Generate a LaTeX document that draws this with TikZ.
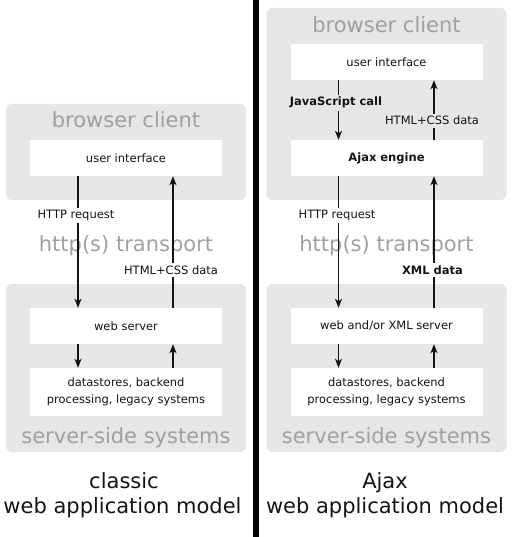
\documentclass[tikz,border=0pt]{standalone}
\usepackage{fontspec}
\setmainfont{DejaVu Sans}
\usetikzlibrary{arrows.meta}
\definecolor{ZoneGray}{RGB}{230,230,230}
\definecolor{TitleGray}{RGB}{160,160,160}
\definecolor{InkColor}{RGB}{20,20,20}
\newcommand{\partfont}{\fontsize{11.5}{16.5}\selectfont}
\newcommand{\zonefont}{\fontsize{21}{25}\selectfont}
\tikzset{
  zone/.style={fill=ZoneGray, rounded corners=6pt, minimum width=240pt, inner sep=0pt},
  part/.style={fill=white, minimum width=192pt, minimum height=36pt, inner sep=0pt,
    align=center, font=\partfont, text=InkColor},
  zonetitle/.style={font=\zonefont, text=TitleGray, anchor=base, inner sep=0pt},
  flow/.style={-{Stealth[length=9pt, width=7pt, inset=2.5pt]}, line width=1.3pt, draw=InkColor},
  flowlabel/.style={font=\partfont, text=InkColor, fill=white, anchor=base,
    inner xsep=1pt, inner ysep=2.5pt},
  caption/.style={font=\zonefont, text=InkColor, anchor=base, inner sep=0pt}
}

\begin{document}
\begin{tikzpicture}[x=1pt, y=-1pt]
    \useasboundingbox (0,0) rectangle (513,537);
    \def\cx{126} \def\ax{386.5}
    % Classic model: zones
    \node[zone, minimum height=96pt] (cbrowser) at (\cx,152) {};
    \node[zone, minimum height=168pt] (cserver) at (\cx,368) {};
    % Classic model: parts
    \node[part] (cui) at (\cx,158) {user interface};
    \node[part] (cws) at (\cx,326) {web server};
    \node[part, minimum height=48pt] (cds) at (\cx,392) {datastores, backend\\processing, legacy systems};
    % Classic model: zone titles
    \node[zonetitle] (cbtitle) at (\cx,127.5) {browser client};
    \node[zonetitle] (cttitle) at (\cx,251.5) {http(s) transport};
    \node[zonetitle] (cstitle) at (\cx,443) {server-side systems};
    % Classic model: flows
    \draw[flow] ([xshift=-48pt]cui.south) -- ([xshift=-48pt]cws.north);
    \draw[flow] ([xshift=47pt]cws.north) -- ([xshift=47pt]cui.south);
    \draw[flow] ([xshift=-48pt]cws.south) -- ([xshift=-48pt]cds.north);
    \draw[flow] ([xshift=47pt]cds.north) -- ([xshift=47pt]cws.south);
    \node[flowlabel] (creq) at (\cx-50,218.5) {HTTP request};
    \node[flowlabel] (cdata) at (\cx+45,274) {HTML+CSS data};
    % Classic model: caption
    \node[caption] (ccap1) at (\cx-2,488) {classic};
    \node[caption] (ccap2) at (\cx-3.5,513) {web application model};

    % Ajax model: zones
    \node[zone, minimum height=192pt] (abrowser) at (\ax,104) {};
    \node[zone, minimum height=168pt] (aserver) at (\ax,368) {};
    % Ajax model: parts
    \node[part] (aui) at (\ax,62) {user interface};
    \node[part] (aeng) at (\ax,158) {\textbf{Ajax engine}};
    \node[part] (aws) at (\ax,326) {web and/or XML server};
    \node[part, minimum height=48pt] (ads) at (\ax,392) {datastores, backend\\processing, legacy systems};
    % Ajax model: zone titles
    \node[zonetitle] (abtitle) at (\ax,32.5) {browser client};
    \node[zonetitle] (attitle) at (\ax,251.5) {http(s) transport};
    \node[zonetitle] (astitle) at (\ax,443) {server-side systems};
    % Ajax model: flows
    \draw[flow] ([xshift=-48pt]aui.south) -- ([xshift=-48pt]aeng.north);
    \draw[flow] ([xshift=47.5pt]aeng.north) -- ([xshift=47.5pt]aui.south);
    \draw[flow] ([xshift=-48pt]aeng.south) -- ([xshift=-48pt]aws.north);
    \draw[flow] ([xshift=47.5pt]aws.north) -- ([xshift=47.5pt]aeng.south);
    \draw[flow] ([xshift=-48pt]aws.south) -- ([xshift=-48pt]ads.north);
    \draw[flow] ([xshift=47.5pt]ads.north) -- ([xshift=47.5pt]aws.south);
    \node[flowlabel, fill=ZoneGray] (acall) at (\ax-50.5,106) {\textbf{JavaScript call}};
    \node[flowlabel, fill=ZoneGray] (ahtml) at (\ax+45.5,125) {HTML+CSS data};
    \node[flowlabel] (areq) at (\ax-49.5,218.5) {HTTP request};
    \node[flowlabel] (axml) at (\ax+46,274) {\textbf{XML data}};
    % Ajax model: caption
    \node[caption] (acap1) at (\ax-1.5,488) {Ajax};
    \node[caption] (acap2) at (\ax-1.5,513) {web application model};

    % Divider
    \fill[black] (253,0) rectangle (258.5,537);
\end{tikzpicture}
\end{document}
